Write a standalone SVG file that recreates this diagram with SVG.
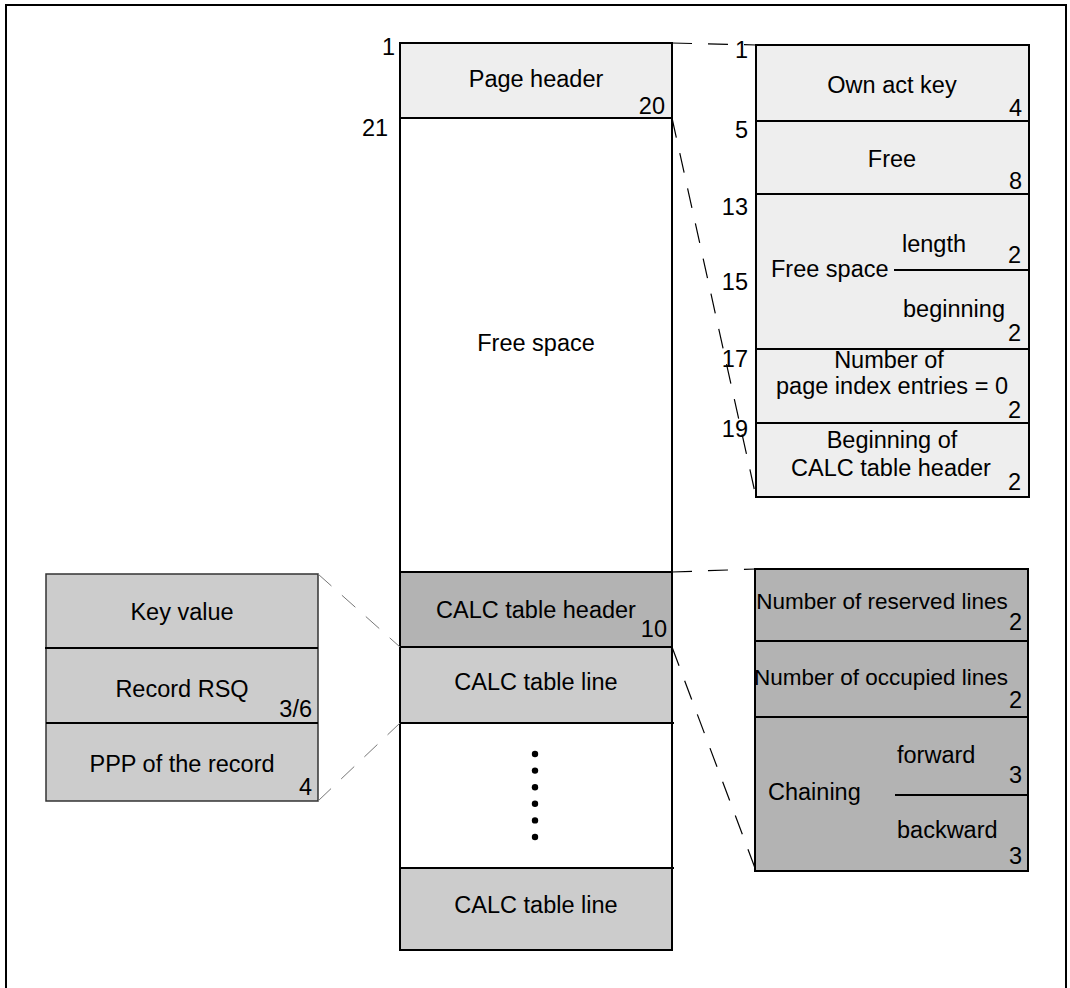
<svg xmlns="http://www.w3.org/2000/svg" width="1070" height="988" viewBox="0 0 1070 988">
<style>
text{font-family:"Liberation Sans",Arial,sans-serif;font-size:23.5px;fill:#000}
.c{text-anchor:middle}
.r{text-anchor:end}
.n{font-size:22.5px}
.box{stroke:#000;stroke-width:2}
.l1{fill:#eeeeee}
.l2{fill:#cccccc}
.l3{fill:#b3b3b3}
.sep{stroke:#000;stroke-width:2;fill:none}
.dash{stroke:#000;stroke-width:1.2;fill:none;stroke-dasharray:20,16}
.dashg{stroke:#777;stroke-width:1;fill:none;stroke-dasharray:18,14}
</style>
<rect width="1070" height="988" fill="#fff"/>
<path d="M6,995 V5 H1066 V995" fill="none" stroke="#000" stroke-width="2"/>

<g id="main-column">
  <rect x="400" y="43" width="272" height="75" class="l1"/>
  <rect x="400" y="118" width="272" height="454" fill="#fff"/>
  <rect x="400" y="572" width="272" height="75" class="l3"/>
  <rect x="400" y="647" width="272" height="76" class="l2"/>
  <rect x="400" y="723" width="272" height="145" fill="#fff"/>
  <rect x="400" y="868" width="272" height="82" class="l2"/>
  <rect x="400" y="43" width="272" height="907" fill="none" class="box"/>
  <path class="sep" d="M400,118 H672 M400,572 H672 M400,647 H672 M400,723 H674 M400,868 H674"/>
  <text x="382" y="55">1</text>
  <text x="362" y="136">21</text>
  <text x="536" y="87" class="c">Page header</text>
  <text x="665" y="114" class="r">20</text>
  <text x="536" y="351" class="c">Free space</text>
  <text x="536" y="618" class="c">CALC table header</text>
  <text x="667" y="637" class="r">10</text>
  <text x="536" y="690" class="c">CALC table line</text>
  <g fill="#000">
    <circle cx="535" cy="754" r="3.2"/>
    <circle cx="535" cy="770.6" r="3.2"/>
    <circle cx="535" cy="787.2" r="3.2"/>
    <circle cx="535" cy="803.8" r="3.2"/>
    <circle cx="535" cy="820.4" r="3.2"/>
    <circle cx="535" cy="837" r="3.2"/>
  </g>
  <text x="536" y="913" class="c">CALC table line</text>
</g>

<g id="page-header-detail">
  <rect x="756" y="45" width="273" height="452" class="l1 box"/>
  <path class="sep" d="M756,121 H1029 M756,194 H1029 M756,349 H1029 M756,423 H1029 M894,270 H1029"/>
  <text x="748" y="58" class="r">1</text>
  <text x="748" y="138" class="r">5</text>
  <text x="748" y="215" class="r">13</text>
  <text x="748" y="290" class="r">15</text>
  <text x="748" y="367" class="r">17</text>
  <text x="748" y="437" class="r">19</text>
  <text x="892" y="93" class="c">Own act key</text>
  <text x="1022" y="116" class="r">4</text>
  <text x="892" y="167" class="c">Free</text>
  <text x="1022" y="189" class="r">8</text>
  <text x="934" y="252" class="c">length</text>
  <text x="1021" y="263" class="r">2</text>
  <text x="771" y="277">Free space</text>
  <text x="954" y="317" class="c">beginning</text>
  <text x="1021" y="341" class="r">2</text>
  <text x="889" y="368" class="c">Number of</text>
  <text x="892" y="394" class="c">page index entries = 0</text>
  <text x="1021" y="418" class="r">2</text>
  <text x="892" y="448" class="c">Beginning of</text>
  <text x="891" y="476" class="c">CALC table header</text>
  <text x="1021" y="490" class="r">2</text>
</g>

<g id="calc-header-detail">
  <rect x="755" y="569" width="273" height="302" class="l3 box"/>
  <path class="sep" d="M755,641 H1028 M755,717 H1028 M895,795 H1028"/>
  <text x="882" y="609" class="c n">Number of reserved lines</text>
  <text x="1022" y="630" class="r">2</text>
  <text x="881" y="685" class="c n">Number of occupied lines</text>
  <text x="1022" y="708" class="r">2</text>
  <text x="897" y="763">forward</text>
  <text x="1022" y="783" class="r">3</text>
  <text x="768" y="800">Chaining</text>
  <text x="897" y="838">backward</text>
  <text x="1022" y="864" class="r">3</text>
</g>

<g id="calc-line-detail">
  <rect x="46" y="574" width="272" height="227" class="l2" stroke="#333" stroke-width="1.5"/>
  <path class="sep" d="M45,648 H318 M46,723 H318"/>
  <text x="182" y="620" class="c">Key value</text>
  <text x="182" y="697" class="c">Record RSQ</text>
  <text x="312" y="717" class="r">3/6</text>
  <text x="182" y="772" class="c">PPP of the record</text>
  <text x="312" y="795" class="r">4</text>
</g>

<g id="connectors">
  <path class="dash" d="M672,43 L756,45"/>
  <path class="dash" d="M672,118 L756,497"/>
  <path class="dash" d="M672,572 L756,569"/>
  <path class="dash" d="M672,647 L755,868"/>
  <path class="dashg" d="M318,574 L400,647"/>
  <path class="dashg" d="M318,801 L400,723"/>
</g>
</svg>
